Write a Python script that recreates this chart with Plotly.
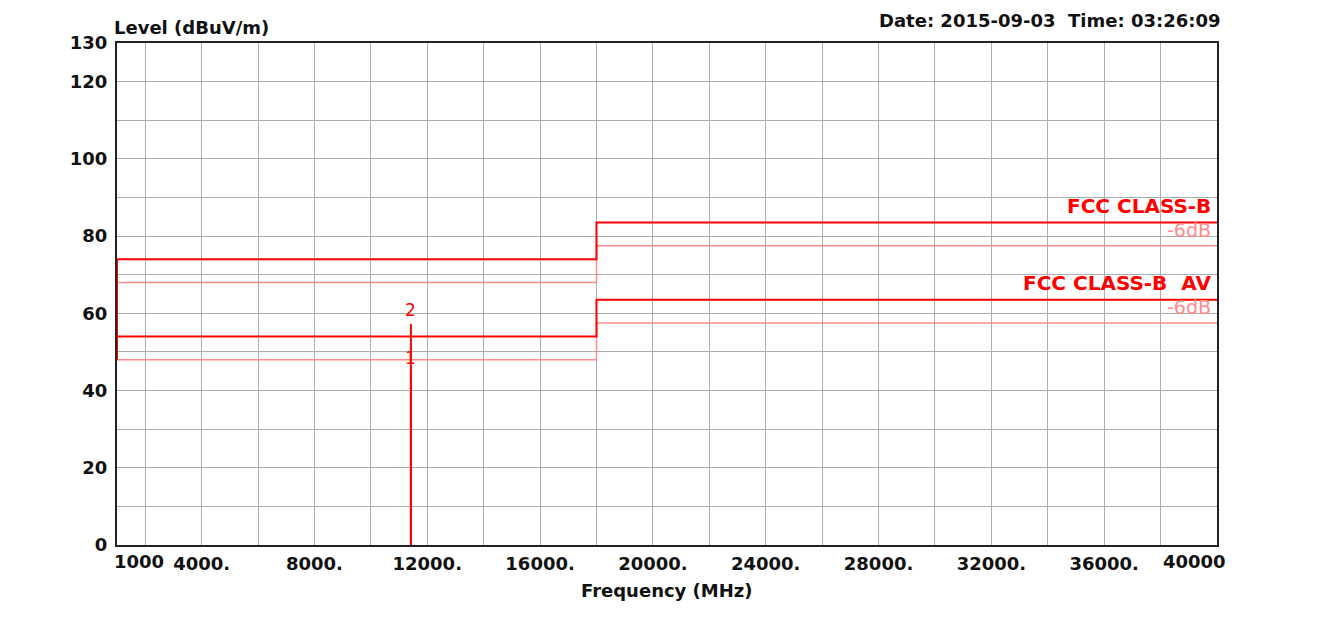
import plotly.graph_objects as go

# limit lines (dBuV/m) over frequency bands (MHz)
band_edges = [1000, 18000, 40000]
peak_limit = [74.0, 83.5]
peak_margin = [68.0, 77.5]
avg_limit = [54.0, 63.5]
avg_margin = [48.0, 57.5]

# measured markers
marker_ids = ["1", "2"]
marker_freq = [11420, 11420]
marker_level = [44.7, 57.2]

x_ticks = list(range(2000, 40001, 2000))
x_labels = {4000: "4000.", 8000: "8000.", 12000: "12000.", 16000: "16000.",
            20000: "20000.", 24000: "24000.", 28000: "28000.", 32000: "32000.",
            36000: "36000."}
y_ticks = list(range(0, 131, 10))
y_labels = {0: "0", 20: "20", 40: "40", 60: "60", 80: "80", 100: "100",
            120: "120", 130: "130"}

FONT = "DejaVu Sans"
RED = "#ff0000"
PINK = "#ff8c8c"


def step_xy(edges, levels):
    xs, ys = [], []
    for i, lv in enumerate(levels):
        xs += [edges[i], edges[i + 1]]
        ys += [lv, lv]
    return xs, ys


fig = go.Figure()

for levels, color, width in [
    (peak_margin, PINK, 1.5),
    (avg_margin, PINK, 1.5),
    (peak_limit, RED, 2),
    (avg_limit, RED, 2),
]:
    xs, ys = step_xy(band_edges, levels)
    fig.add_trace(go.Scatter(x=xs, y=ys, mode="lines",
                             line=dict(color=color, width=width),
                             hoverinfo="skip", showlegend=False))

# left edge joining the low band limits
fig.add_trace(go.Scatter(
    x=[band_edges[0], band_edges[0]],
    y=[min(avg_margin[0], avg_limit[0]), max(peak_limit[0], peak_margin[0])],
    mode="lines", line=dict(color=RED, width=2),
    hoverinfo="skip", showlegend=False))

# marker spectral lines
for f, lv in zip(marker_freq, marker_level):
    fig.add_trace(go.Scatter(x=[f, f], y=[0, lv], mode="lines",
                             line=dict(color=RED, width=2),
                             hoverinfo="skip", showlegend=False))

for mid, f, lv in zip(marker_ids, marker_freq, marker_level):
    fig.add_annotation(x=f, y=lv, text=mid, showarrow=False,
                       yanchor="bottom", yshift=2,
                       font=dict(family=FONT, size=17, color=RED))

# limit labels
for text, lv, color, size, weight in [
    ("FCC CLASS-B", peak_limit[-1], RED, 20, "bold"),
    ("-6dB", peak_margin[-1], PINK, 19, "normal"),
    ("FCC CLASS-B  AV", avg_limit[-1], RED, 20, "bold"),
    ("-6dB", avg_margin[-1], PINK, 19, "normal"),
]:
    fig.add_annotation(x=1, xref="paper", y=lv, text=text, showarrow=False,
                       xanchor="right", yanchor="bottom", xshift=-4, yshift=3,
                       font=dict(family=FONT, size=size, color=color,
                                 weight=weight))

axis_font = dict(family=FONT, size=18, color="#111111", weight="bold")

fig.add_annotation(x=0, xref="paper", y=0, yref="paper", text="1000",
                   showarrow=False, xanchor="left", yanchor="top",
                   xshift=-5, yshift=-4, font=axis_font)
fig.add_annotation(x=1, xref="paper", y=0, yref="paper", text="40000",
                   showarrow=False, xanchor="right", yanchor="top",
                   xshift=11, yshift=-4, font=axis_font)
fig.add_annotation(x=0, xref="paper", y=1, yref="paper",
                   text="Level (dBuV/m)", showarrow=False,
                   xanchor="left", yanchor="bottom", xshift=-5, yshift=3,
                   font=axis_font)
fig.add_annotation(x=1, xref="paper", y=1, yref="paper",
                   text="Date: 2015-09-03  Time: 03:26:09", showarrow=False,
                   xanchor="right", yanchor="bottom", xshift=5, yshift=10,
                   font=axis_font)
fig.add_annotation(x=0.5, xref="paper", y=0, yref="paper",
                   text="Frequency (MHz)", showarrow=False,
                   xanchor="center", yanchor="top", yshift=-33,
                   font=axis_font)

fig.update_xaxes(
    range=[band_edges[0], band_edges[-1]],
    tickvals=x_ticks,
    ticktext=[x_labels.get(v, "") for v in x_ticks],
    tickfont=axis_font,
    showgrid=True, gridcolor="#adadad", gridwidth=1,
    showline=True, linecolor="#222222", linewidth=2, mirror=True,
    ticks="", zeroline=False, ticklabelstandoff=1,
)
fig.update_yaxes(
    range=[0, 130],
    tickvals=y_ticks,
    ticktext=[y_labels.get(v, "") for v in y_ticks],
    tickfont=axis_font,
    showgrid=True, gridcolor="#adadad", gridwidth=1,
    showline=True, linecolor="#222222", linewidth=2, mirror=True,
    ticks="", zeroline=False, ticklabelstandoff=4,
)

fig.update_layout(
    width=1321, height=614,
    margin=dict(l=109, r=112, t=35, b=77),
    plot_bgcolor="white", paper_bgcolor="white",
    showlegend=False,
)

fig.write_html("out.html")
